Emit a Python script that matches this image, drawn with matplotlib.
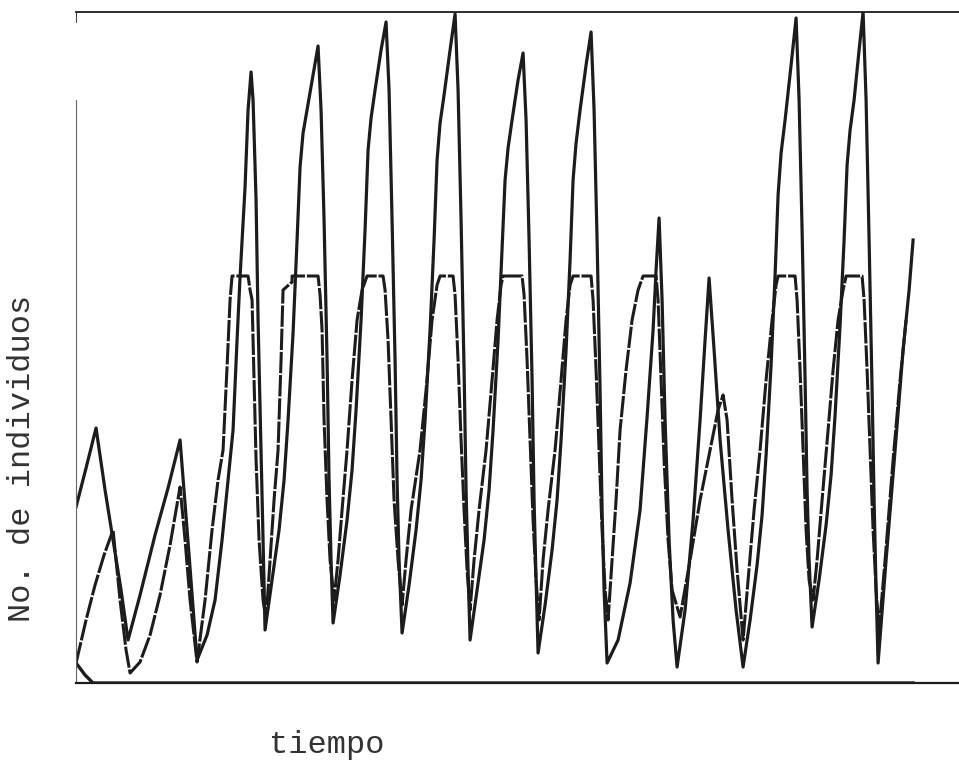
import matplotlib
matplotlib.use("Agg")
import matplotlib.pyplot as plt

# arbitrary units (time steps, individuals)
t_a = [0, 10, 20, 29, 37, 45, 52, 64, 79, 92, 104, 113, 121,
       131, 139, 146, 152, 157, 161, 164, 169, 172, 175, 177, 180, 182, 185, 187, 189,
       196, 203, 208, 212, 217, 221, 224, 227, 231, 237, 242, 245, 248, 251, 253, 255, 257,
       264, 271, 276, 280, 285, 289, 292, 295, 299, 305, 310, 313, 316, 319, 321, 323, 326,
       333, 340, 345, 349, 354, 358, 361, 364, 368, 374, 379, 382, 385, 388, 390, 392, 394,
       401, 408, 413, 417, 422, 426, 429, 432, 436, 442, 447, 450, 453, 456, 458, 460, 462,
       469, 476, 481, 485, 490, 494, 497, 500, 504, 510, 515, 518, 521, 524, 526, 528, 531,
       542, 554, 564, 571, 577, 580, 583, 586, 589, 593, 597, 601,
       609, 617, 624, 629, 633, 638, 644, 652, 660, 667,
       674, 681, 686, 690, 695, 699, 702, 705, 709, 715, 720, 723, 726, 729, 731, 733, 736,
       743, 750, 755, 759, 764, 768, 771, 774, 778, 783, 787, 790, 793, 796, 798, 800, 802,
       810, 819, 827, 833, 837]
n_a = [176, 215, 255, 193, 143, 93, 43, 88, 148, 195, 243, 128, 23,
       48, 83, 143, 203, 253, 343, 406, 496, 573, 611, 583, 483, 363, 233, 143, 53,
       103, 153, 203, 263, 350, 443, 516, 550, 573, 608, 637, 573, 463, 323, 203, 123, 60,
       108, 163, 213, 273, 363, 453, 533, 565, 593, 633, 661, 593, 463, 323, 203, 123, 50,
       98, 153, 203, 263, 353, 443, 523, 560, 588, 633, 669, 593, 463, 313, 193, 113, 43,
       93, 143, 193, 253, 343, 433, 503, 535, 563, 603, 630, 563, 443, 303, 183, 103, 30,
       78, 133, 183, 243, 333, 423, 503, 540, 573, 618, 651, 573, 443, 293, 173, 93, 20,
       43, 100, 173, 266, 353, 413, 465, 383, 263, 143, 63, 16,
       73, 163, 263, 343, 405, 333, 243, 153, 73, 16,
       63, 118, 168, 228, 318, 408, 488, 530, 563, 618, 665, 583, 453, 303, 193, 123, 56,
       103, 158, 208, 268, 358, 443, 518, 553, 583, 633, 671, 583, 443, 293, 183, 93, 20,
       123, 233, 333, 393, 443]

t_b = [0, 10, 19, 28, 37, 44, 50, 54, 64, 74, 84, 94, 104, 109, 114, 121,
       129, 136, 142, 147, 151, 154, 156, 172, 174, 176, 178, 180, 183, 187, 190,
       194, 198, 202, 205, 207, 216, 216, 242, 244, 246, 248, 251, 254, 258,
       262, 266, 271, 276, 281, 286, 291, 307, 309, 312, 315, 318, 322, 326,
       330, 335, 344, 350, 356, 361, 364, 377, 379, 382, 385, 388, 391, 394,
       398, 403, 410, 416, 421, 425, 427, 446, 448, 451, 454, 457, 460, 463,
       467, 472, 479, 485, 490, 494, 497, 515, 517, 520, 523, 526, 529, 532,
       536, 540, 544, 550, 556, 562, 567, 580, 582, 585, 588, 592, 596, 604,
       614, 624, 634, 642, 647, 651, 656, 661, 667,
       672, 678, 684, 690, 696, 700, 702, 719, 721, 724, 727, 730, 733, 737,
       741, 746, 752, 757, 762, 767, 770, 786, 788, 791, 794, 797, 800, 803,
       809, 817, 824, 830]
n_b = [20, 63, 98, 128, 153, 83, 33, 10, 21, 48, 88, 138, 196, 143, 83, 21,
       83, 153, 203, 233, 316, 383, 407, 407, 393, 383, 303, 223, 143, 83, 63,
       123, 183, 233, 323, 393, 401, 407, 407, 388, 353, 263, 183, 123, 83,
       123, 173, 233, 303, 363, 393, 407, 407, 393, 343, 263, 183, 123, 78,
       123, 173, 233, 293, 363, 398, 407, 407, 388, 323, 243, 173, 113, 73,
       123, 173, 233, 303, 363, 398, 407, 407, 388, 323, 243, 163, 103, 63,
       123, 173, 233, 303, 363, 398, 407, 407, 383, 313, 233, 153, 93, 63,
       123, 183, 253, 313, 363, 393, 407, 407, 383, 303, 223, 143, 93, 66,
       123, 183, 233, 273, 288, 263, 183, 113, 43,
       103, 173, 233, 303, 363, 398, 407, 407, 383, 313, 233, 153, 103, 83,
       123, 183, 253, 313, 363, 393, 407, 407, 383, 313, 233, 153, 93, 53,
       123, 223, 303, 363]

t_c = [0, 9, 17, 837]
n_c = [20, 8, 0, 0]

ink = "#1c1c1c"

fig = plt.figure(figsize=(9.59, 7.64), dpi=100)
ax = fig.add_axes([0.0793, 0.1060, 0.9208, 0.8783])

ax.plot(t_c, n_c, color=ink, lw=2.4, solid_joinstyle="round")
ax.plot(t_b, n_b, color=ink, lw=2.2, linestyle=(0, (7, 0.6)))
ax.plot(t_a, n_a, color=ink, lw=2.3, solid_joinstyle="round")

ax.set_xlim(0, 883)
ax.set_ylim(0, 671)
ax.set_xticks([])
ax.set_yticks([])

ax.spines["right"].set_visible(False)
ax.spines["top"].set_linewidth(1.3)
ax.spines["top"].set_color(ink)
ax.spines["bottom"].set_linewidth(1.6)
ax.spines["bottom"].set_color(ink)
ax.spines["left"].set_linewidth(0.8)
ax.spines["left"].set_color("#666666")
ax.spines["left"].set_bounds(0, 583)
ax.axvline(0, ymin=0.985, ymax=1, color=ink, lw=1.2)

font = ["Liberation Mono", "DejaVu Sans Mono"]
fig.text(0.341, 0.025, "tiempo", family=font, fontsize=23,
         ha="center", va="center", color="#333333")
fig.text(0.023, 0.40, "No. de individuos", family=font, fontsize=23,
         ha="center", va="center", rotation=90, color="#333333")

fig.savefig("out.png", dpi=100)
